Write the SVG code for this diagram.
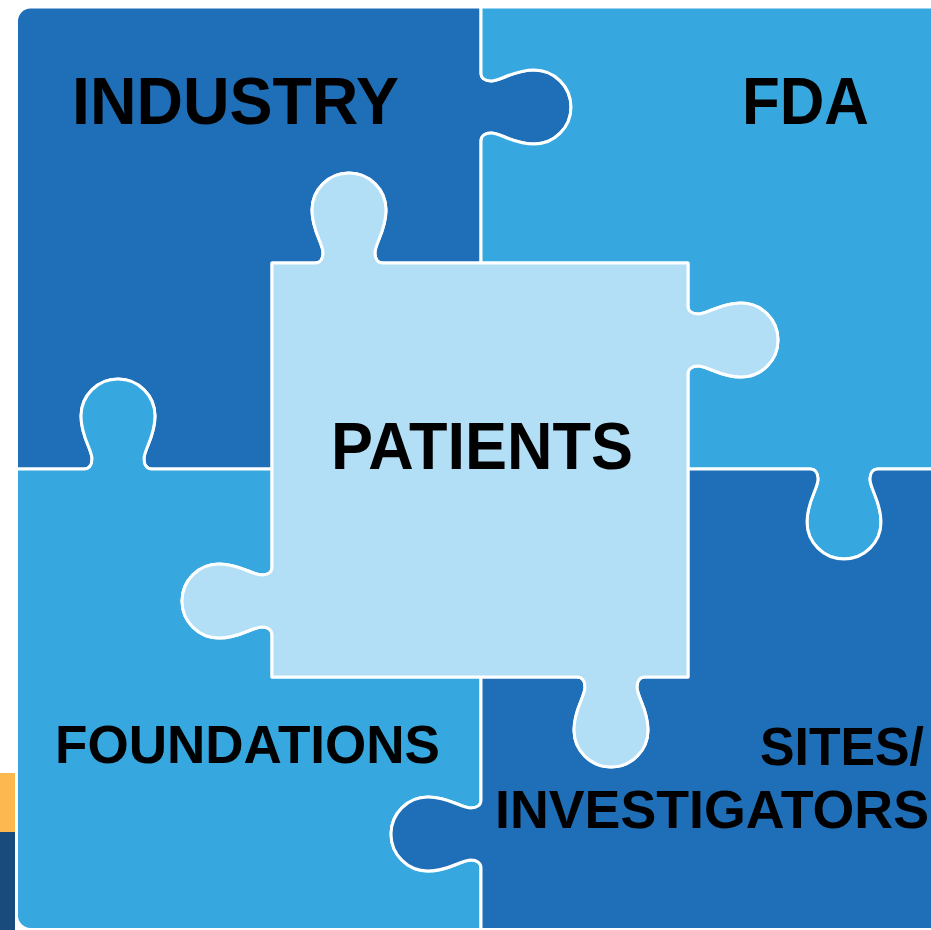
<svg xmlns="http://www.w3.org/2000/svg" width="931" height="930" viewBox="0 0 931 930">
<style>
.piece{stroke:#fff;stroke-width:3;stroke-linejoin:round}
.dark{fill:#1f6fb8}
.mid{fill:#36a8df}
.light{fill:#b2dff6}
.label{font-family:"Liberation Sans",Arial,Helvetica,sans-serif;font-weight:bold;fill:#000}
</style>
<rect x="0" y="0" width="931" height="930" fill="#fff"/>
<rect x="0" y="773" width="15" height="59" fill="#fdb94f"/>
<rect x="0" y="832" width="15" height="98" fill="#1a4b7d"/>
<g id="industry">
<path class="piece dark" d="M 30.5,7 H 481 V 73 C 481,78 485,81 491,81 C 501,81 513,70 534,70 A 37 37 0 0 1 534,144 C 513,144 501,133 491,133 C 485,133 481,136 481,141 V 263 H 383 C 378,263 375,259 375,253 C 375,243 386,231 386,210 A 37 37 0 0 0 312,210 C 312,231 323,243 323,253 C 323,259 320,263 315,263 H 272 V 469 H 152 C 147,469 144,465 144,459 C 144,449 155,437 155,416 A 37 37 0 0 0 81,416 C 81,437 92,449 92,459 C 92,465 89,469 84,469 H 16.5 V 21 A 14 14 0 0 1 30.5,7 Z"/>
<text class="label" x="72" y="124" font-size="66" textLength="327" lengthAdjust="spacingAndGlyphs">INDUSTRY</text>
</g>
<g id="fda">
<path class="piece mid" d="M 481,7 H 945 V 469 H 878 C 873,469 870,473 870,479 C 870,489 881,501 881,522 A 37 37 0 0 1 807,522 C 807,501 818,489 818,479 C 818,473 815,469 810,469 H 688 V 374 C 688,369 692,366 698,366 C 708,366 720,377 741,377 A 37 37 0 0 0 741,303 C 720,303 708,314 698,314 C 692,314 688,311 688,306 V 263 H 481 V 141 C 481,136 485,133 491,133 C 501,133 513,144 534,144 A 37 37 0 0 0 534,70 C 513,70 501,81 491,81 C 485,81 481,78 481,73 Z"/>
<text class="label" x="742" y="124" font-size="66" textLength="127" lengthAdjust="spacingAndGlyphs">FDA</text>
</g>
<g id="foundations">
<path class="piece mid" d="M 16.5,469 H 84 C 89,469 92,465 92,459 C 92,449 81,437 81,416 A 37 37 0 0 1 155,416 C 155,437 144,449 144,459 C 144,465 147,469 152,469 H 272 V 567 C 272,572 268,575 262,575 C 252,575 240,564 219,564 A 37 37 0 0 0 219,638 C 240,638 252,627 262,627 C 268,627 272,630 272,635 V 677 H 481 V 800 C 481,805 477,808 471,808 C 461,808 449,797 428,797 A 37 37 0 0 0 428,871 C 449,871 461,860 471,860 C 477,860 481,863 481,868 V 929.5 H 30.5 A 14 14 0 0 1 16.5,915.5 Z"/>
<text class="label" x="55" y="763" font-size="53" textLength="385" lengthAdjust="spacingAndGlyphs">FOUNDATIONS</text>
</g>
<g id="sites">
<path class="piece dark" d="M 688,469 H 810 C 815,469 818,473 818,479 C 818,489 807,501 807,522 A 37 37 0 0 0 881,522 C 881,501 870,489 870,479 C 870,473 873,469 878,469 H 945 V 929.5 H 481 V 868 C 481,863 477,860 471,860 C 461,860 449,871 428,871 A 37 37 0 0 1 428,797 C 449,797 461,808 471,808 C 477,808 481,805 481,800 V 677 H 577 C 582,677 585,681 585,687 C 585,697 574,709 574,730 A 37 37 0 0 0 648,730 C 648,709 637,697 637,687 C 637,681 640,677 645,677 H 688 Z"/>
<text class="label" x="760" y="765" font-size="54" textLength="164" lengthAdjust="spacingAndGlyphs">SITES/</text>
<text class="label" x="495" y="828" font-size="54" textLength="434" lengthAdjust="spacingAndGlyphs">INVESTIGATORS</text>
</g>
<g id="patients">
<path class="piece light" d="M 272,263 H 315 C 320,263 323,259 323,253 C 323,243 312,231 312,210 A 37 37 0 0 1 386,210 C 386,231 375,243 375,253 C 375,259 378,263 383,263 H 688 V 306 C 688,311 692,314 698,314 C 708,314 720,303 741,303 A 37 37 0 0 1 741,377 C 720,377 708,366 698,366 C 692,366 688,369 688,374 V 677 H 645 C 640,677 637,681 637,687 C 637,697 648,709 648,730 A 37 37 0 0 1 574,730 C 574,709 585,697 585,687 C 585,681 582,677 577,677 H 272 V 635 C 272,630 268,627 262,627 C 252,627 240,638 219,638 A 37 37 0 0 1 219,564 C 240,564 252,575 262,575 C 268,575 272,572 272,567 Z"/>
<text class="label" x="331" y="469" font-size="66" textLength="302" lengthAdjust="spacingAndGlyphs">PATIENTS</text>
</g>
</svg>
